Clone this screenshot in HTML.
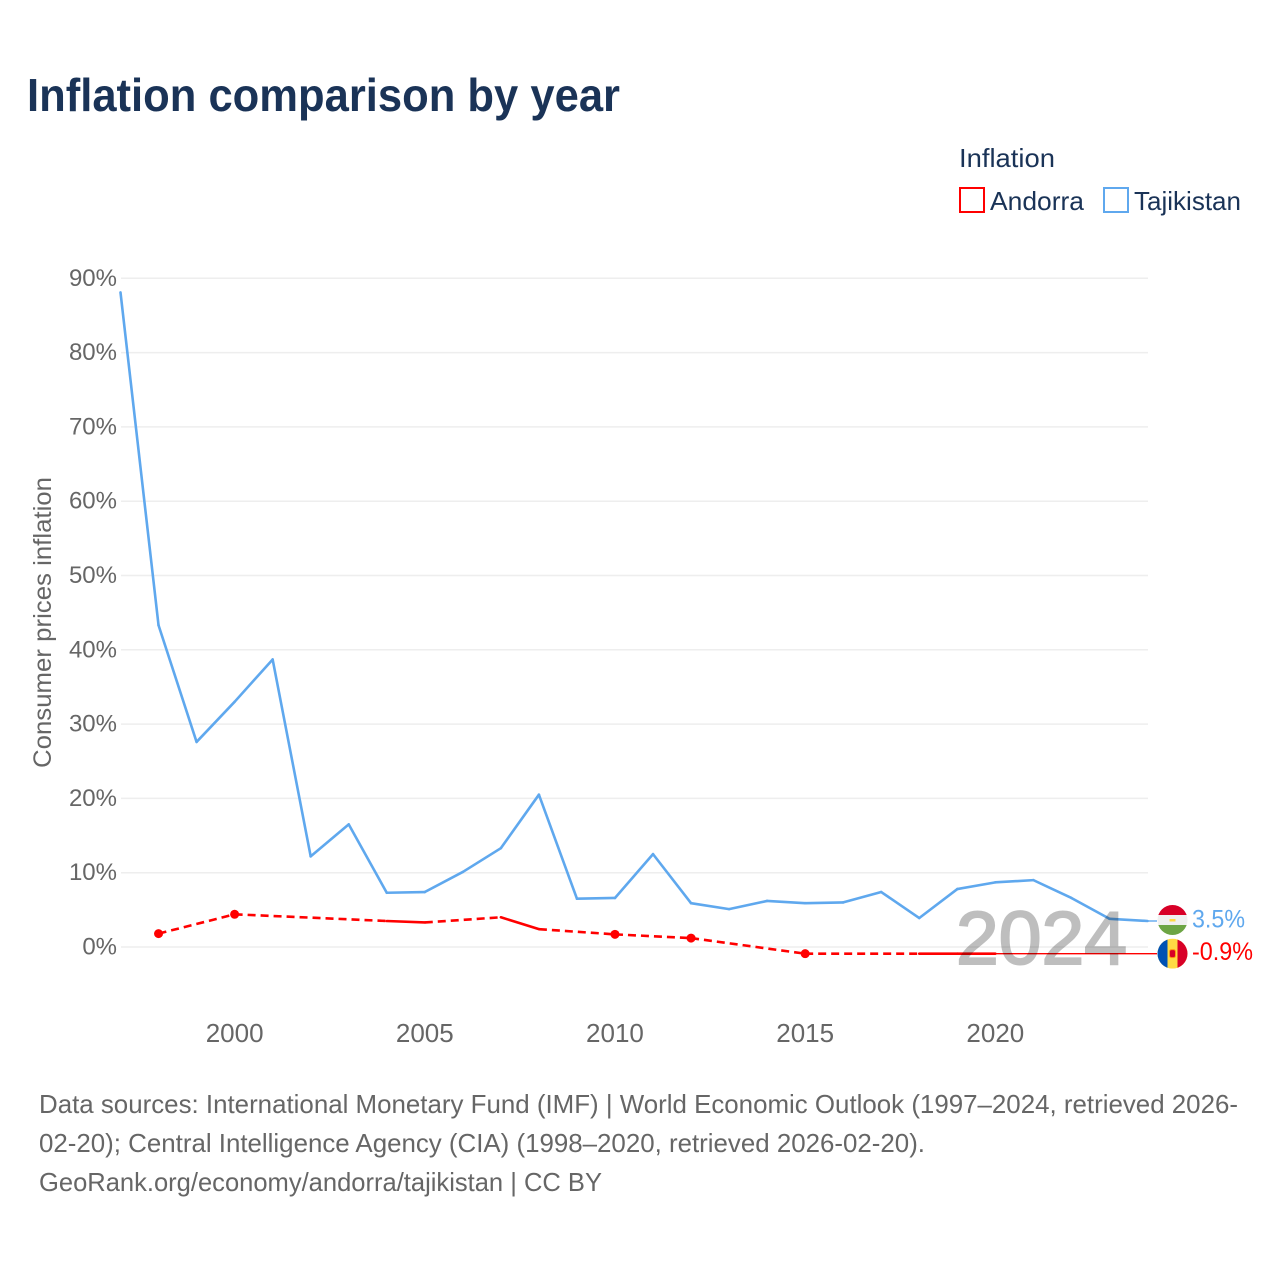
<!DOCTYPE html>
<html>
<head>
<meta charset="utf-8">
<title>Inflation comparison by year</title>
<style>
html,body{margin:0;padding:0;background:#fff;}
svg{display:block;}
text{font-family:"Liberation Sans",sans-serif;}
</style>
</head>
<body>
<svg id="chart" xmlns="http://www.w3.org/2000/svg" width="1280" height="1280" viewBox="0 0 1280 1280">
  <defs>
    <clipPath id="flag-clip"><circle cx="0" cy="0" r="15"></circle></clipPath>
  </defs>
  <rect x="0" y="0" width="1280" height="1280" fill="#ffffff"></rect>
  <text x="27" y="111" font-size="46" font-weight="700" fill="#1a3357" textLength="593" lengthAdjust="spacingAndGlyphs">Inflation comparison by year</text>

  <text x="959" y="167" font-size="26" fill="#1a3357" textLength="96" lengthAdjust="spacingAndGlyphs">Inflation</text>
  <rect x="960" y="188" width="24" height="24" fill="none" stroke="#ff0000" stroke-width="2"></rect>
  <text x="990" y="210" font-size="26" fill="#1a3357" textLength="94" lengthAdjust="spacingAndGlyphs">Andorra</text>
  <rect x="1104" y="188" width="24" height="24" fill="none" stroke="#5fa8ee" stroke-width="2"></rect>
  <text x="1134" y="210" font-size="26" fill="#1a3357" textLength="107" lengthAdjust="spacingAndGlyphs">Tajikistan</text>

  <text transform="translate(51,768) rotate(-90)" font-size="25" fill="#666666" textLength="291" lengthAdjust="spacingAndGlyphs">Consumer prices inflation</text>

  <g id="grid-layer"></g>
  <g id="tick-layer"></g>
  <g id="series-layer"></g>

  <text x="956" y="964" font-size="75" fill="#000000" stroke="#000000" stroke-width="2" opacity="0.25" textLength="171" lengthAdjust="spacingAndGlyphs">2024</text>

  <g id="flag-tajikistan">
    <g clip-path="url(#flag-clip)">
      <rect x="-15" y="-15" width="30" height="30" fill="#f0f0f0"></rect>
      <rect x="-15" y="-15" width="30" height="10" fill="#d80027"></rect>
      <rect x="-15" y="5" width="30" height="10" fill="#6da544"></rect>
      <rect x="-3" y="-1" width="6" height="2.5" fill="#ffda44"></rect>
    </g>
  </g>
  <g id="flag-andorra">
    <g clip-path="url(#flag-clip)">
      <rect x="-15" y="-15" width="30" height="30" fill="#ffda44"></rect>
      <rect x="-15" y="-15" width="10" height="30" fill="#0052b4"></rect>
      <rect x="5" y="-15" width="10" height="30" fill="#d80027"></rect>
      <rect x="-3" y="-4" width="6" height="8" rx="2" fill="#d80027" stroke="#ff9811" stroke-width="1"></rect>
    </g>
  </g>
  <text id="label-tajikistan" x="1192" font-size="25" fill="#5fa8ee"></text>
  <text id="label-andorra" x="1192" font-size="25" fill="#ff0000"></text>

  <g font-size="26" fill="#666666">
    <text x="39" y="1113" textLength="1199" lengthAdjust="spacingAndGlyphs">Data sources: International Monetary Fund (IMF) | World Economic Outlook (1997–2024, retrieved 2026-</text>
    <text x="39" y="1152" textLength="886" lengthAdjust="spacingAndGlyphs">02-20); Central Intelligence Agency (CIA) (1998–2020, retrieved 2026-02-20).</text>
    <text x="39" y="1191" textLength="563" lengthAdjust="spacingAndGlyphs">GeoRank.org/economy/andorra/tajikistan | CC BY</text>
  </g>
</svg>
<script>
const years = [1997,1998,1999,2000,2001,2002,2003,2004,2005,2006,2007,2008,2009,2010,2011,2012,2013,2014,2015,2016,2017,2018,2019,2020,2021,2022,2023,2024];
const tajikistan = [88.1,43.3,27.6,33,38.7,12.2,16.5,7.3,7.4,10.1,13.3,20.5,6.5,6.6,12.5,5.9,5.1,6.2,5.9,6.0,7.4,3.9,7.8,8.7,9.0,6.6,3.8,3.5];
const andorra = [null,1.8,null,4.4,null,null,null,3.5,3.3,null,4.0,2.4,null,1.7,null,1.2,null,null,-0.9,null,null,-0.9,-0.9,-0.9,null,null,null,null];
const andorraLatest = -0.9;
const yTicks = [0,10,20,30,40,50,60,70,80,90];
const xTicks = [2000,2005,2010,2015,2020];

const SVG_NS = 'http://www.w3.org/2000/svg';
const LEFT = 120.5, RIGHT = 1147.5, ZERO_Y = 947, PX_PER_PCT = 7.43, END_X = 1157;
function x(year){ return LEFT + (year - 1997) * (RIGHT - LEFT) / 27; }
function y(value){ return ZERO_Y - value * PX_PER_PCT; }
function make(tag, parent){
  const el = document.createElementNS(SVG_NS, tag);
  parent.appendChild(el);
  return el;
}
function drawLine(parent, x1, y1, x2, y2, color, width, dash){
  const l = make('line', parent);
  l.setAttribute('x1', x1);
  l.setAttribute('y1', y1);
  l.setAttribute('x2', x2);
  l.setAttribute('y2', y2);
  l.setAttribute('stroke', color);
  l.setAttribute('stroke-width', width);
  if (dash) l.setAttribute('stroke-dasharray', dash);
  return l;
}

const gridLayer = document.getElementById('grid-layer');
const tickLayer = document.getElementById('tick-layer');
const seriesLayer = document.getElementById('series-layer');

yTicks.forEach(function(v){
  const g = drawLine(gridLayer, 121, y(v), 1148, y(v), '#eeeeee', 1.5);
  
  
  const t = make('text', tickLayer);
  
  
  t.setAttribute('x', 117);
  t.setAttribute('y', y(v) + 7.5);
  t.setAttribute('text-anchor', 'end');
  t.setAttribute('font-size', 24);
  t.setAttribute('fill', '#666666');
  t.textContent = v + '%';
});
xTicks.forEach(function(v){
  const t = make('text', tickLayer);
  
  
  t.setAttribute('x', x(v));
  t.setAttribute('y', 1042);
  t.setAttribute('text-anchor', 'middle');
  t.setAttribute('font-size', 26);
  t.setAttribute('fill', '#666666');
  t.textContent = v;
});

function drawSeries(values, color, name){
  const known = [];
  values.forEach(function(v, i){ if (v !== null) known.push(i); });
  known.forEach(function(idx, k){
    const next = known[k + 1];
    if (next === undefined) return;
    const seg = drawLine(seriesLayer, x(years[idx]), y(values[idx]), x(years[next]), y(values[next]), color, 2.6, next - idx > 1 ? '8 5' : null);
    seg.setAttribute('stroke-linecap', 'round');
    
    
    if (next - idx > 1) seg.setAttribute('stroke-linecap', 'butt');
  });
  known.forEach(function(idx){
    const isolated = values[idx - 1] == null && values[idx + 1] == null;
    if (!isolated) return;
    const dot = make('circle', seriesLayer);
    
    
    dot.setAttribute('cx', x(years[idx]));
    dot.setAttribute('cy', y(values[idx]));
    dot.setAttribute('r', 4.5);
    dot.setAttribute('fill', color);
  });
  const last = known[known.length - 1];
  const lead = drawLine(seriesLayer, x(years[last]), y(values[last]), END_X, y(values[last]), color, 1.4);
  
  
}
drawSeries(andorra, '#ff0000', 'andorra');
drawSeries(tajikistan, '#5fa8ee', 'tajikistan');

const tajikLatest = tajikistan[tajikistan.length - 1];
document.getElementById('flag-tajikistan').setAttribute('transform', 'translate(1172.5,' + (y(tajikLatest) - 1) + ')');
document.getElementById('flag-andorra').setAttribute('transform', 'translate(1172.5,' + y(andorraLatest) + ')');
const labelT = document.getElementById('label-tajikistan');
labelT.setAttribute('y', y(tajikLatest) + 6.5);
labelT.setAttribute('textLength', 53);
labelT.setAttribute('lengthAdjust', 'spacingAndGlyphs');
labelT.textContent = tajikLatest + '%';
const labelA = document.getElementById('label-andorra');
labelA.setAttribute('y', y(andorraLatest) + 6.5);
labelA.setAttribute('textLength', 61);
labelA.setAttribute('lengthAdjust', 'spacingAndGlyphs');
labelA.textContent = andorraLatest + '%';
</script>
</body>
</html>
